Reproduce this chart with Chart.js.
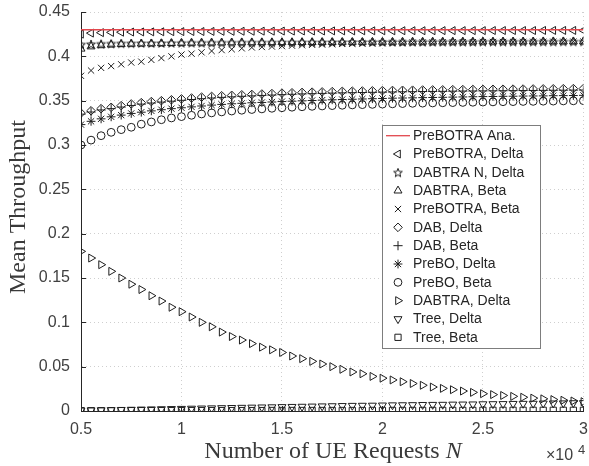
<!DOCTYPE html>
<html>
<head>
<meta charset="utf-8">
<script src="https://cdn.jsdelivr.net/npm/chart.js@4.4.1/dist/chart.umd.min.js"></script>
<style>
  html, body { margin: 0; padding: 0; background: #ffffff; }
  canvas { display: block; }
</style>
</head>
<body>
<canvas id="chart" width="589" height="466"></canvas>
<script>
// Number of UE requests N (units of 10^4)
const requests = [
  0.5, 0.55, 0.6, 0.65, 0.7, 0.75, 0.8, 0.85, 0.9, 0.95,
  1.0, 1.05, 1.1, 1.15, 1.2, 1.25, 1.3, 1.35, 1.4, 1.45,
  1.5, 1.55, 1.6, 1.65, 1.7, 1.75, 1.8, 1.85, 1.9, 1.95,
  2.0, 2.05, 2.1, 2.15, 2.2, 2.25, 2.3, 2.35, 2.4, 2.45,
  2.5, 2.55, 2.6, 2.65, 2.7, 2.75, 2.8, 2.85, 2.9, 2.95,
  3.0
];

const xTickValues = [0.5, 1, 1.5, 2, 2.5, 3];
const xTickLabels = ['0.5', '1', '1.5', '2', '2.5', '3'];
const yTickValues = [0, 0.05, 0.1, 0.15, 0.2, 0.25, 0.3, 0.35, 0.4, 0.45];
const yTickLabels = ['0', '0.05', '0.1', '0.15', '0.2', '0.25', '0.3', '0.35', '0.4', '0.45'];

// analytical mean throughput of PreBOTRA
const preBotraAna = 0.430;

const preBotraDelta = [
  0.4250, 0.4262, 0.4267, 0.4270, 0.4272, 0.4274, 0.4275, 0.4276, 0.4277, 0.4278,
  0.4279, 0.4280, 0.4280, 0.4281, 0.4282, 0.4282, 0.4283, 0.4283, 0.4284, 0.4284,
  0.4285, 0.4285, 0.4286, 0.4286, 0.4286, 0.4287, 0.4287, 0.4287, 0.4288, 0.4288,
  0.4288, 0.4288, 0.4289, 0.4289, 0.4289, 0.4289, 0.4290, 0.4290, 0.4290, 0.4290,
  0.4290, 0.4291, 0.4291, 0.4291, 0.4291, 0.4291, 0.4292, 0.4292, 0.4292, 0.4292,
  0.4292
];

const dabtraNDelta = [
  0.4135, 0.4140, 0.4143, 0.4145, 0.4147, 0.4148, 0.4150, 0.4150, 0.4151, 0.4152,
  0.4153, 0.4154, 0.4154, 0.4155, 0.4156, 0.4156, 0.4157, 0.4157, 0.4158, 0.4158,
  0.4159, 0.4159, 0.4160, 0.4160, 0.4160, 0.4161, 0.4161, 0.4162, 0.4162, 0.4162,
  0.4163, 0.4163, 0.4163, 0.4164, 0.4164, 0.4164, 0.4165, 0.4165, 0.4165, 0.4165,
  0.4166, 0.4166, 0.4166, 0.4166, 0.4167, 0.4167, 0.4167, 0.4167, 0.4168, 0.4168,
  0.4168
];

const dabtraBeta = [
  0.4085, 0.4110, 0.4123, 0.4131, 0.4136, 0.4140, 0.4142, 0.4144, 0.4146, 0.4148,
  0.4150, 0.4151, 0.4152, 0.4153, 0.4154, 0.4155, 0.4156, 0.4156, 0.4157, 0.4157,
  0.4158, 0.4158, 0.4159, 0.4159, 0.4160, 0.4160, 0.4161, 0.4161, 0.4161, 0.4162,
  0.4162, 0.4162, 0.4163, 0.4163, 0.4163, 0.4164, 0.4164, 0.4164, 0.4165, 0.4165,
  0.4165, 0.4165, 0.4166, 0.4166, 0.4166, 0.4166, 0.4167, 0.4167, 0.4167, 0.4167,
  0.4167
];

const preBotraBeta = [
  0.3780, 0.3840, 0.3870, 0.3890, 0.3910, 0.3930, 0.3940, 0.3960, 0.3980, 0.4000,
  0.4020, 0.4030, 0.4045, 0.4060, 0.4070, 0.4080, 0.4090, 0.4100, 0.4105, 0.4110,
  0.4115, 0.4120, 0.4125, 0.4130, 0.4133, 0.4136, 0.4140, 0.4143, 0.4146, 0.4149,
  0.4150, 0.4152, 0.4153, 0.4155, 0.4156, 0.4157, 0.4158, 0.4159, 0.4160, 0.4160,
  0.4161, 0.4162, 0.4162, 0.4163, 0.4163, 0.4164, 0.4164, 0.4165, 0.4165, 0.4166,
  0.4166
];

const dabDelta = [
  0.3360, 0.3386, 0.3410, 0.3425, 0.3444, 0.3463, 0.3478, 0.3490, 0.3500, 0.3510,
  0.3520, 0.3530, 0.3540, 0.3548, 0.3555, 0.3560, 0.3566, 0.3570, 0.3575, 0.3580,
  0.3585, 0.3589, 0.3593, 0.3596, 0.3599, 0.3602, 0.3605, 0.3607, 0.3609, 0.3611,
  0.3613, 0.3615, 0.3617, 0.3618, 0.3620, 0.3621, 0.3622, 0.3624, 0.3625, 0.3626,
  0.3627, 0.3628, 0.3629, 0.3630, 0.3631, 0.3632, 0.3633, 0.3634, 0.3635, 0.3636,
  0.3637
];

const dabBeta = [
  0.3348, 0.3372, 0.3395, 0.3410, 0.3428, 0.3446, 0.3461, 0.3473, 0.3484, 0.3494,
  0.3504, 0.3513, 0.3522, 0.3530, 0.3537, 0.3543, 0.3549, 0.3554, 0.3559, 0.3563,
  0.3568, 0.3572, 0.3576, 0.3579, 0.3582, 0.3585, 0.3588, 0.3590, 0.3592, 0.3594,
  0.3596, 0.3598, 0.3600, 0.3601, 0.3603, 0.3604, 0.3605, 0.3607, 0.3608, 0.3609,
  0.3610, 0.3611, 0.3612, 0.3613, 0.3614, 0.3615, 0.3616, 0.3617, 0.3618, 0.3619,
  0.3620
];

const preBoDelta = [
  0.3230, 0.3267, 0.3295, 0.3318, 0.3337, 0.3356, 0.3370, 0.3385, 0.3398, 0.3410,
  0.3420, 0.3430, 0.3440, 0.3450, 0.3458, 0.3465, 0.3470, 0.3476, 0.3480, 0.3485,
  0.3490, 0.3494, 0.3498, 0.3502, 0.3506, 0.3510, 0.3513, 0.3516, 0.3519, 0.3522,
  0.3525, 0.3528, 0.3530, 0.3532, 0.3534, 0.3536, 0.3538, 0.3540, 0.3542, 0.3544,
  0.3546, 0.3547, 0.3549, 0.3550, 0.3552, 0.3553, 0.3554, 0.3556, 0.3557, 0.3558,
  0.3560
];

const preBoBeta = [
  0.3000, 0.3055, 0.3105, 0.3143, 0.3173, 0.3200, 0.3235, 0.3260, 0.3285, 0.3305,
  0.3320, 0.3335, 0.3350, 0.3362, 0.3373, 0.3383, 0.3392, 0.3400, 0.3407, 0.3414,
  0.3420, 0.3426, 0.3431, 0.3436, 0.3440, 0.3444, 0.3448, 0.3452, 0.3455, 0.3458,
  0.3461, 0.3464, 0.3467, 0.3470, 0.3472, 0.3474, 0.3476, 0.3478, 0.3480, 0.3482,
  0.3484, 0.3486, 0.3488, 0.3489, 0.3491, 0.3492, 0.3494, 0.3495, 0.3497, 0.3498,
  0.3500
];

const dabtraDelta = [
  0.1800, 0.1725, 0.1650, 0.1575, 0.1500, 0.1430, 0.1370, 0.1300, 0.1240, 0.1170,
  0.1120, 0.1060, 0.1000, 0.0950, 0.0890, 0.0840, 0.0800, 0.0760, 0.0720, 0.0690,
  0.0660, 0.0620, 0.0590, 0.0560, 0.0530, 0.0500, 0.0470, 0.0440, 0.0420, 0.0390,
  0.0370, 0.0350, 0.0330, 0.0310, 0.0290, 0.0270, 0.0255, 0.0240, 0.0225, 0.0210,
  0.0195, 0.0185, 0.0175, 0.0165, 0.0155, 0.0145, 0.0137, 0.0129, 0.0121, 0.0113,
  0.0105
];

const treeDelta = [
  0.0008, 0.0009, 0.0010, 0.0012, 0.0014, 0.0016, 0.0018, 0.0020, 0.0022, 0.0024,
  0.0026, 0.0028, 0.0030, 0.0032, 0.0034, 0.0036, 0.0038, 0.0040, 0.0042, 0.0044,
  0.0046, 0.0048, 0.0050, 0.0052, 0.0054, 0.0056, 0.0058, 0.0060, 0.0061, 0.0062,
  0.0064, 0.0066, 0.0067, 0.0068, 0.0070, 0.0071, 0.0072, 0.0074, 0.0075, 0.0076,
  0.0078, 0.0079, 0.0080, 0.0082, 0.0083, 0.0084, 0.0086, 0.0087, 0.0088, 0.0090,
  0.0091
];

const treeBeta = [
  0.0003, 0.0003, 0.0003, 0.0003, 0.0004, 0.0004, 0.0004, 0.0004, 0.0004, 0.0004,
  0.0004, 0.0005, 0.0005, 0.0005, 0.0005, 0.0005, 0.0005, 0.0005, 0.0005, 0.0006,
  0.0006, 0.0006, 0.0006, 0.0006, 0.0006, 0.0006, 0.0006, 0.0006, 0.0006, 0.0007,
  0.0007, 0.0007, 0.0007, 0.0007, 0.0007, 0.0007, 0.0007, 0.0007, 0.0007, 0.0007,
  0.0008, 0.0008, 0.0008, 0.0008, 0.0008, 0.0008, 0.0008, 0.0008, 0.0008, 0.0008,
  0.0008
];

const seriesNames = [
  'PreBOTRA Ana.', 'PreBOTRA, Delta', 'DABTRA N, Delta', 'DABTRA, Beta',
  'PreBOTRA Beta', 'DAB, Delta', 'DAB, Beta', 'PreBO, Delta',
  'PreBO, Beta', 'DABTRA, Delta', 'Tree, Delta', 'Tree, Beta'
];
seriesNames[4] = 'PreBOTRA, Beta';

const INK = '#1e1e1e';
const AXIS = '#262626';

// five-pointed outline star used as a custom point style
function pentagram(r) {
  const size = Math.ceil(2 * r + 4);
  const c = document.createElement('canvas');
  c.width = size; c.height = size;
  const g = c.getContext('2d');
  g.translate(size / 2, size / 2 + 0.6);
  g.beginPath();
  for (let k = 0; k < 10; k++) {
    const rr = k % 2 ? r * 0.42 : r;
    const a = -Math.PI / 2 + k * Math.PI / 5;
    const px = rr * Math.cos(a), py = rr * Math.sin(a);
    if (k === 0) g.moveTo(px, py); else g.lineTo(px, py);
  }
  g.closePath();
  g.strokeStyle = INK;
  g.lineWidth = 1;
  g.stroke();
  return c;
}
const starMarker = pentagram(4.6);

function pts(values) {
  return values.map((v, i) => ({ x: requests[i], y: v }));
}

function markerSet(label, values, style, radius, rotation) {
  return {
    label: label,
    data: pts(values),
    showLine: false,
    pointStyle: style,
    pointRadius: radius,
    pointHoverRadius: radius,
    pointRotation: rotation || 0,
    pointBorderColor: INK,
    pointBackgroundColor: 'rgba(0,0,0,0)',
    pointBorderWidth: 1,
    borderColor: INK,
    backgroundColor: 'rgba(0,0,0,0)'
  };
}

const datasets = [
  {
    label: seriesNames[0],
    data: pts(requests.map(() => preBotraAna)),
    showLine: true,
    borderColor: '#e2474d',
    borderWidth: 1.3,
    pointRadius: 0,
    pointStyle: 'line',
    backgroundColor: 'rgba(0,0,0,0)'
  },
  markerSet(seriesNames[1], preBotraDelta, 'triangle', 4.6, -90),
  markerSet(seriesNames[2], dabtraNDelta, starMarker, 4.6, 0),
  markerSet(seriesNames[3], dabtraBeta, 'triangle', 4.6, 0),
  markerSet(seriesNames[4], preBotraBeta, 'crossRot', 4.4, 0),
  markerSet(seriesNames[5], dabDelta, 'rectRot', 4.3, 0),
  markerSet(seriesNames[6], dabBeta, 'cross', 4.6, 0),
  markerSet(seriesNames[7], preBoDelta, 'star', 4.4, 0),
  markerSet(seriesNames[8], preBoBeta, 'circle', 3.9, 0),
  markerSet(seriesNames[9], dabtraDelta, 'triangle', 4.6, 90),
  markerSet(seriesNames[10], treeDelta, 'triangle', 4.6, 180),
  markerSet(seriesNames[11], treeBeta, 'rect', 4.4, 0)
];

// diamonds in this figure are a bit narrower than tall
datasets[5].data.forEach(() => {});

function drawMarker(ctx, ds, x, y) {
  const h = Chart.helpers;
  ctx.save();
  ctx.strokeStyle = INK;
  ctx.fillStyle = 'rgba(0,0,0,0)';
  ctx.lineWidth = 1;
  if (h && h.drawPoint) {
    h.drawPoint(ctx, {
      pointStyle: ds.pointStyle,
      rotation: ds.pointRotation || 0,
      radius: ds.pointRadius,
      borderWidth: 1
    }, x, y);
  }
  ctx.restore();
}

// inward tick marks on the left and bottom axes
const tickMarks = {
  id: 'tickMarks',
  afterDatasetsDraw(chart) {
    const { ctx, chartArea: a, scales } = chart;
    ctx.save();
    ctx.strokeStyle = AXIS;
    ctx.lineWidth = 1;
    ctx.beginPath();
    scales.x.ticks.forEach(t => {
      const px = Math.round(scales.x.getPixelForValue(t.value)) + 0.5;
      ctx.moveTo(px, a.bottom);
      ctx.lineTo(px, a.bottom - 5);
    });
    scales.y.ticks.forEach(t => {
      const py = Math.round(scales.y.getPixelForValue(t.value)) + 0.5;
      ctx.moveTo(a.left, py);
      ctx.lineTo(a.left + 5, py);
    });
    ctx.stroke();
    ctx.restore();
  }
};

// boxed legend inside the plot area
const boxLegend = {
  id: 'boxLegend',
  afterDraw(chart) {
    const ctx = chart.ctx;
    const left = 382.5, top = 125.5, width = 158, height = 223;
    ctx.save();
    ctx.fillStyle = '#ffffff';
    ctx.fillRect(left, top, width, height);
    ctx.strokeStyle = '#7d7d7d';
    ctx.lineWidth = 1;
    ctx.strokeRect(left, top, width, height);
    ctx.font = '14px "Liberation Sans", Arial, sans-serif';
    ctx.textBaseline = 'middle';
    ctx.textAlign = 'left';
    const ds = chart.data.datasets;
    ds.forEach((d, i) => {
      const y = 135.7 + i * 18.33;
      if (i === 0) {
        ctx.strokeStyle = d.borderColor;
        ctx.lineWidth = 1.3;
        ctx.beginPath();
        ctx.moveTo(386, y);
        ctx.lineTo(410, y);
        ctx.stroke();
      } else {
        drawMarker(ctx, d, 398, y);
      }
      ctx.fillStyle = '#262626';
      ctx.fillText(d.label, 413, y + 0.5);
    });
    ctx.restore();
  }
};

// axis titles and the x10^4 exponent label
const axisTitles = {
  id: 'axisTitles',
  afterDraw(chart) {
    const ctx = chart.ctx;
    ctx.save();
    ctx.fillStyle = '#3a3a3a';
    ctx.textBaseline = 'middle';
    const serif = '"Liberation Serif", "Times New Roman", serif';
    // x title
    const main = 'Number of UE Requests ';
    ctx.font = '24px ' + serif;
    const w1 = ctx.measureText(main).width;
    ctx.font = 'italic 24px ' + serif;
    const w2 = ctx.measureText('N').width;
    const x0 = 333 - (w1 + w2) / 2;
    ctx.textAlign = 'left';
    ctx.font = '24px ' + serif;
    ctx.fillText(main, x0, 452);
    ctx.font = 'italic 24px ' + serif;
    ctx.fillText('N', x0 + w1, 452);
    // y title
    ctx.save();
    ctx.translate(19, 207);
    ctx.rotate(-Math.PI / 2);
    ctx.textAlign = 'center';
    ctx.font = '24px ' + serif;
    ctx.fillText('Mean Throughput', 0, 0);
    ctx.restore();
    // exponent
    ctx.fillStyle = '#404040';
    ctx.textAlign = 'left';
    ctx.font = '16px "Liberation Sans", Arial, sans-serif';
    ctx.fillText('\u00d710', 546, 456);
    ctx.font = '13px "Liberation Sans", Arial, sans-serif';
    ctx.fillText('4', 578, 450);
    ctx.restore();
  }
};

new Chart(document.getElementById('chart'), {
  type: 'scatter',
  data: { datasets: datasets },
  options: {
    responsive: false,
    animation: false,
    devicePixelRatio: 1,
    layout: { padding: { top: 12, right: 3, left: 0, bottom: 0 } },
    plugins: {
      legend: { display: false },
      tooltip: { enabled: false }
    },
    scales: {
      x: {
        type: 'linear',
        min: 0.5,
        max: 3,
        afterBuildTicks: s => { s.ticks = xTickValues.map(v => ({ value: v })); },
        afterFit: s => { s.height = 55; s.paddingLeft = 0; s.paddingRight = 0; },
        ticks: {
          callback: (v, i) => xTickLabels[i],
          maxRotation: 0,
          autoSkip: false,
          padding: 9,
          color: '#404040',
          font: { family: '"Liberation Sans", Arial, sans-serif', size: 16 }
        },
        grid: { color: '#cfcfcf', lineWidth: 1, drawTicks: false },
        border: { display: true, color: AXIS, width: 1, dash: [1, 3] }
      },
      y: {
        type: 'linear',
        min: 0,
        max: 0.45,
        afterBuildTicks: s => { s.ticks = yTickValues.map(v => ({ value: v })); },
        afterFit: s => { s.width = 81; s.paddingTop = 0; s.paddingBottom = 0; },
        ticks: {
          callback: (v, i) => yTickLabels[i],
          autoSkip: false,
          padding: 11,
          color: '#404040',
          font: { family: '"Liberation Sans", Arial, sans-serif', size: 16 }
        },
        grid: { color: '#cfcfcf', lineWidth: 1, drawTicks: false },
        border: { display: true, color: AXIS, width: 1, dash: [1, 3] }
      }
    }
  },
  plugins: [tickMarks, boxLegend, axisTitles]
});
</script>
</body>
</html>
